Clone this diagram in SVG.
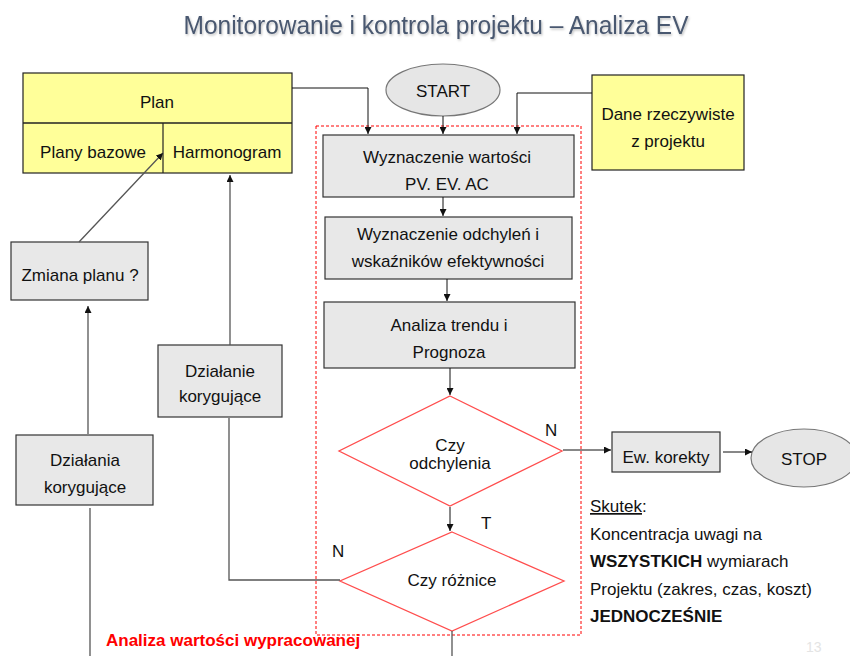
<svg xmlns="http://www.w3.org/2000/svg" width="850" height="656" viewBox="0 0 850 656">
<defs>
<style>
text{font-family:"Liberation Sans",Arial,sans-serif;font-size:17px;fill:#111;}
.c{text-anchor:middle;}
.box{fill:#e8e8e8;stroke:#333;stroke-width:1.2;}
.yel{fill:#ffff99;stroke:#222;stroke-width:1.2;}
.ell{fill:#e6e6e6;stroke:#777;stroke-width:1.2;}
.dia{fill:#fff;stroke:#ff4d4d;stroke-width:1.3;}
.ln{fill:none;stroke:#111;stroke-width:1;}
.lg{fill:none;stroke:#555;stroke-width:1.3;}
.title{font-size:25px;fill:#4a5870;}
.red{fill:#ff0000;font-weight:bold;}
</style>
<marker id="ah" viewBox="0 0 10 10" refX="10" refY="5" markerWidth="7" markerHeight="7" orient="auto" markerUnits="userSpaceOnUse">
<path d="M0,0 L10,5 L0,10 z" fill="#111"/>
</marker>
<filter id="sh" x="-5%" y="-30%" width="110%" height="160%">
<feDropShadow dx="1" dy="1.5" stdDeviation="1" flood-color="#000" flood-opacity="0.25"/>
</filter>
</defs>

<text class="title c" x="436" y="34" textLength="505" lengthAdjust="spacingAndGlyphs" filter="url(#sh)">Monitorowanie i kontrola projektu – Analiza EV</text>

<rect x="316" y="126" width="265" height="509" fill="none" stroke="#ff0000" stroke-width="1" stroke-dasharray="3,2"/>

<g id="plan">
<rect class="yel" x="23" y="73" width="269" height="100"/>
<line x1="23" y1="123" x2="292" y2="123" stroke="#222" stroke-width="1.5"/>
<line x1="163" y1="123" x2="163" y2="173" stroke="#222" stroke-width="1.2"/>
<text class="c" x="157" y="108">Plan</text>
<text class="c" x="93" y="158">Plany bazowe</text>
<text class="c" x="227" y="158">Harmonogram</text>
</g>

<g id="start">
<ellipse class="ell" cx="443" cy="90" rx="57" ry="26"/>
<text class="c" x="443" y="97">START</text>
</g>

<g id="dane">
<rect class="yel" x="592" y="75" width="152" height="95"/>
<text class="c" x="668" y="120">Dane rzeczywiste</text>
<text class="c" x="668" y="147">z projektu</text>
</g>

<g id="wyznaczenie-wartosci">
<rect class="box" x="323" y="135" width="251" height="62"/>
<text class="c" x="447" y="163">Wyznaczenie wartości</text>
<text class="c" x="447" y="190">PV. EV. AC</text>
</g>

<g id="wyznaczenie-odchylen">
<rect class="box" x="325" y="217" width="247" height="62"/>
<text class="c" x="448" y="240">Wyznaczenie odchyleń i</text>
<text class="c" x="448" y="267">wskaźników efektywności</text>
</g>

<g id="analiza-trendu">
<rect class="box" x="324" y="302" width="251" height="66"/>
<text class="c" x="449" y="331">Analiza trendu i</text>
<text class="c" x="449" y="358">Prognoza</text>
</g>

<g id="czy-odchylenia">
<polygon class="dia" points="450,396 562,451 450,506 339,451"/>
<text class="c" x="450" y="451">Czy</text>
<text class="c" x="450" y="469">odchylenia</text>
<text x="545" y="436">N</text>
</g>

<g id="ew-korekty">
<rect class="box" x="612" y="432" width="108" height="40"/>
<text class="c" x="666" y="463">Ew. korekty</text>
</g>

<g id="stop">
<ellipse class="ell" cx="804" cy="458" rx="53" ry="29"/>
<text class="c" x="804" y="465">STOP</text>
</g>

<g id="czy-roznice">
<polygon class="dia" points="452,532 564,581 452,631 340,581"/>
<text class="c" x="452" y="586">Czy różnice</text>
<text x="481" y="529">T</text>
<text x="332" y="557">N</text>
</g>

<g id="zmiana-planu">
<rect class="box" x="11" y="242" width="137" height="58"/>
<text class="c" x="80" y="281">Zmiana planu ?</text>
</g>

<g id="dzialanie-korygujace">
<rect class="box" x="158" y="345" width="124" height="72"/>
<text class="c" x="220" y="377">Działanie</text>
<text class="c" x="220" y="402">korygujące</text>
</g>

<g id="dzialania-korygujace">
<rect class="box" x="16" y="435" width="137" height="70"/>
<text class="c" x="85" y="466">Działania</text>
<text class="c" x="85" y="493">korygujące</text>
</g>

<g id="connectors">
<polyline class="ln" points="292,88 368,88 368,134" marker-end="url(#ah)"/>
<line class="ln" x1="443" y1="116" x2="443" y2="134" marker-end="url(#ah)"/>
<polyline class="ln" points="592,93 517,93 517,134" marker-end="url(#ah)"/>
<line class="ln" x1="443" y1="197" x2="443" y2="216" marker-end="url(#ah)"/>
<line class="ln" x1="447" y1="279" x2="447" y2="301" marker-end="url(#ah)"/>
<line class="ln" x1="450" y1="368" x2="450" y2="395" marker-end="url(#ah)"/>
<line class="ln" x1="563" y1="450" x2="611" y2="450" marker-end="url(#ah)"/>
<line class="ln" x1="723" y1="452" x2="752" y2="452" marker-end="url(#ah)"/>
<line class="ln" x1="450" y1="507" x2="450" y2="531" marker-end="url(#ah)"/>
<polyline class="lg" points="340,580 229,580 229,418"/>
<line class="lg" x1="230" y1="345" x2="230" y2="175" marker-end="url(#ah)"/>
<line class="lg" x1="79" y1="242" x2="163" y2="153" marker-end="url(#ah)"/>
<line class="lg" x1="88" y1="434" x2="88" y2="306" marker-end="url(#ah)"/>
<line class="lg" x1="90" y1="508" x2="90" y2="656"/>
<line class="lg" x1="452" y1="631" x2="452" y2="656"/>
</g>

<g id="skutek">
<text x="590" y="512"><tspan text-decoration="underline">Skutek</tspan>:</text>
<text x="590" y="540">Koncentracja uwagi na</text>
<text x="590" y="567"><tspan font-weight="bold">WSZYSTKICH</tspan> wymiarach</text>
<text x="590" y="595">Projektu (zakres, czas, koszt)</text>
<text x="590" y="622" font-weight="bold">JEDNOCZEŚNIE</text>
</g>

<text class="red" x="106" y="646">Analiza wartości wypracowanej</text>
<text x="806" y="652" style="fill:#e4e4e4;font-size:14px">13</text>
</svg>
